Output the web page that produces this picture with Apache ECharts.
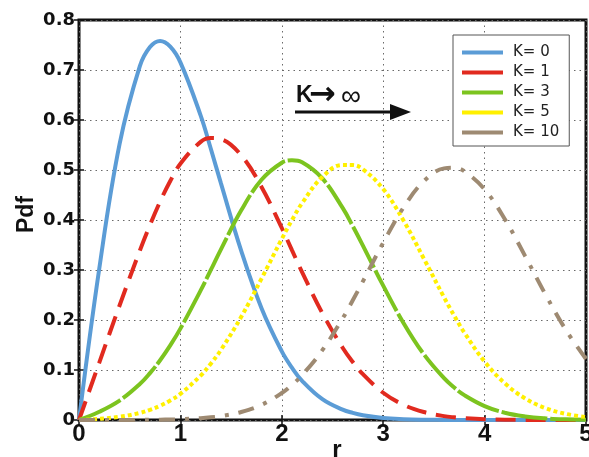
<!DOCTYPE html>
<html>
<head>
<meta charset="utf-8">
<script src="https://cdn.jsdelivr.net/npm/echarts@6/dist/echarts.min.js"></script>
<style>
html,body{margin:0;padding:0;background:#fff;}
#chart{width:589px;height:457px;}
</style>
</head>
<body>
<div id="chart"></div>
<script>
// ---- data ----
const rValues = [0, 0.2, 0.4, 0.6, 0.7, 0.8, 0.9, 1.0, 1.2, 1.3, 1.4, 1.6, 1.8, 2.0, 2.1, 2.2, 2.4, 2.6, 2.7, 2.8, 3.0, 3.2, 3.4, 3.6, 3.7, 3.8, 4.0, 4.2, 4.4, 4.6, 4.8, 5.0];
const seriesNames = ['K= 0', 'K= 1', 'K= 3', 'K= 5', 'K= 10'];
const pdfK0  = [0, 0.3029, 0.5516, 0.7076, 0.7459, 0.7582, 0.7468, 0.7153, 0.6088, 0.5425, 0.4732, 0.3383, 0.2237, 0.1373, 0.1047, 0.0784, 0.0417, 0.0207, 0.0142, 0.0096, 0.0041, 0.0017, 0.0006, 0.0002, 0.0001, 0.0001, 0, 0, 0, 0, 0, 0];
const pdfK1  = [0, 0.1149, 0.2291, 0.3388, 0.3899, 0.4368, 0.4781, 0.5126, 0.5563, 0.5639, 0.5618, 0.5292, 0.4660, 0.3840, 0.3398, 0.2958, 0.2137, 0.1446, 0.1161, 0.0916, 0.0545, 0.0304, 0.0159, 0.0078, 0.0053, 0.0036, 0.0015, 0.0006, 0.0002, 0.0001, 0, 0];
const pdfK3  = [0, 0.0165, 0.0388, 0.0718, 0.0937, 0.1195, 0.1492, 0.1828, 0.2591, 0.3001, 0.3413, 0.4193, 0.4805, 0.5146, 0.5193, 0.5154, 0.4831, 0.4241, 0.3877, 0.3487, 0.2687, 0.1942, 0.1316, 0.0836, 0.0650, 0.0498, 0.0279, 0.0146, 0.0072, 0.0033, 0.0014, 0.0006];
const pdfK5  = [0, 0.0024, 0.0064, 0.0142, 0.0204, 0.0285, 0.0390, 0.0523, 0.0889, 0.1127, 0.1403, 0.2063, 0.2828, 0.3622, 0.3997, 0.4337, 0.4861, 0.5101, 0.5099, 0.5015, 0.4620, 0.3990, 0.3231, 0.2454, 0.2087, 0.1748, 0.1168, 0.0733, 0.0431, 0.0238, 0.0123, 0.0060];
const pdfK10 = [0, 0.0000, 0.0001, 0.0002, 0.0004, 0.0006, 0.0010, 0.0015, 0.0036, 0.0053, 0.0078, 0.0159, 0.0303, 0.0540, 0.0702, 0.0897, 0.1396, 0.2033, 0.2394, 0.2773, 0.3546, 0.4249, 0.4775, 0.5032, 0.5044, 0.4975, 0.4613, 0.4015, 0.3278, 0.2512, 0.1806, 0.1220];
const xTickLabels = ['0', '1', '2', '3', '4', '5'];
const yTickLabels = ['0', '0.1', '0.2', '0.3', '0.4', '0.5', '0.6', '0.7', '0.8'];
const xAxisTitle = 'r';
const yAxisTitle = 'Pdf';
const annotationParts = ['K', '\u2192', '\u221E'];

// ---- styles ----
const colors = ['#5b9cd6', '#e12a1f', '#7cc41f', '#fff000', '#9e8a72'];
const dashes = ['solid', [20, 10], [46, 3], [4, 3], [16, 10, 4, 10]];
const pdfAll = [pdfK0, pdfK1, pdfK3, pdfK5, pdfK10];

const chart = echarts.init(document.getElementById('chart'), null, {renderer: 'canvas'});

const series = pdfAll.map((vals, k) => ({
  name: seriesNames[k],
  type: 'line',
  xAxisIndex: 0,
  yAxisIndex: 0,
  data: rValues.map((r, i) => [r, vals[i]]),
  smooth: 0.4,
  showSymbol: false,
  symbol: 'none',
  color: colors[k],
  lineStyle: {width: 4, color: colors[k], type: dashes[k], cap: 'butt'},
  emphasis: {disabled: true},
  silent: true,
  animation: false,
  z: 3 + k
}));

const gridLine = {show: true, lineStyle: {color: '#6a6a6a', width: 1, type: [1.5, 4]}};
const tickStyle = {show: true, inside: true, length: 5, lineStyle: {color: '#111', width: 1.5}};

chart.setOption({
  animation: false,
  backgroundColor: '#fff',
  grid: {left: 79, right: 3, top: 20, bottom: 37, outerBoundsMode: 'none', containLabel: false,
    show: true, borderColor: '#111', borderWidth: 3, backgroundColor: 'transparent'},
  xAxis: [{
    type: 'value', min: 0, max: 5, interval: 1, position: 'bottom',
    axisLine: {show: false},
    axisTick: tickStyle,
    axisLabel: {margin: 2, color: '#111', fontFamily: 'Liberation Sans', fontWeight: 'bold', fontSize: 24,
      formatter: v => xTickLabels[Math.round(v)]},
    splitLine: gridLine,
    name: xAxisTitle, nameLocation: 'middle', nameGap: 18, nameMoveOverlap: false,
    nameTextStyle: {color: '#111', fontFamily: 'Liberation Sans', fontWeight: 'bold', fontSize: 24, padding: [0, 0, 0, 9]}
  }, {
    type: 'value', min: 0, max: 5, interval: 1, position: 'top',
    axisLine: {show: false}, axisTick: tickStyle,
    axisLabel: {show: false}, splitLine: {show: false}
  }],
  yAxis: [{
    type: 'value', min: 0, max: 0.8, interval: 0.1, position: 'left',
    axisLine: {show: false},
    axisTick: tickStyle,
    axisLabel: {margin: 4, color: '#111', fontFamily: 'DejaVu Sans', fontWeight: 'bold', fontSize: 18,
      formatter: v => yTickLabels[Math.round(v * 10)]},
    splitLine: gridLine,
    name: yAxisTitle, nameLocation: 'middle', nameGap: 41, nameMoveOverlap: false,
    nameTextStyle: {color: '#111', fontFamily: 'Liberation Sans', fontWeight: 'bold', fontSize: 23, padding: [0, 0, 0, 11]}
  }, {
    type: 'value', min: 0, max: 0.8, interval: 0.1, position: 'right',
    axisLine: {show: false}, axisTick: tickStyle,
    axisLabel: {show: false}, splitLine: {show: false}
  }],
  legend: {
    data: seriesNames,
    orient: 'vertical',
    left: 453, top: 35,
    padding: [10, 10, 6, 9],
    itemWidth: 41, itemHeight: 4, itemGap: 5,
    icon: 'rect',
    backgroundColor: '#fff',
    borderColor: '#555', borderWidth: 1,
    textStyle: {color: '#222', fontFamily: 'DejaVu Sans', fontSize: 15, padding: [0, 0, 0, 5]},
    selectedMode: false,
    z: 20
  },
  graphic: [
    {type: 'text', x: 296, y: 96, z: 30,
      style: {text: annotationParts[0], fontFamily: 'Liberation Sans', fontWeight: 'bold', fontSize: 23, fill: '#111', verticalAlign: 'middle', align: 'left'}},
    {type: 'text', x: 309, y: 96, z: 30,
      style: {text: annotationParts[1], fontFamily: 'DejaVu Sans', fontWeight: 'bold', fontSize: 32, fill: '#111', verticalAlign: 'middle', align: 'left'}},
    {type: 'text', x: 341, y: 97, z: 30,
      style: {text: annotationParts[2], fontFamily: 'Liberation Sans', fontSize: 28, fill: '#111', verticalAlign: 'middle', align: 'left'}},
    {type: 'line', z: 30, shape: {x1: 295, y1: 112, x2: 394, y2: 112}, style: {stroke: '#111', lineWidth: 3}},
    {type: 'polygon', z: 30, shape: {points: [[390, 104], [411, 112], [390, 120]]}, style: {fill: '#111'}}
  ],
  series: series
});
</script>
</body>
</html>
